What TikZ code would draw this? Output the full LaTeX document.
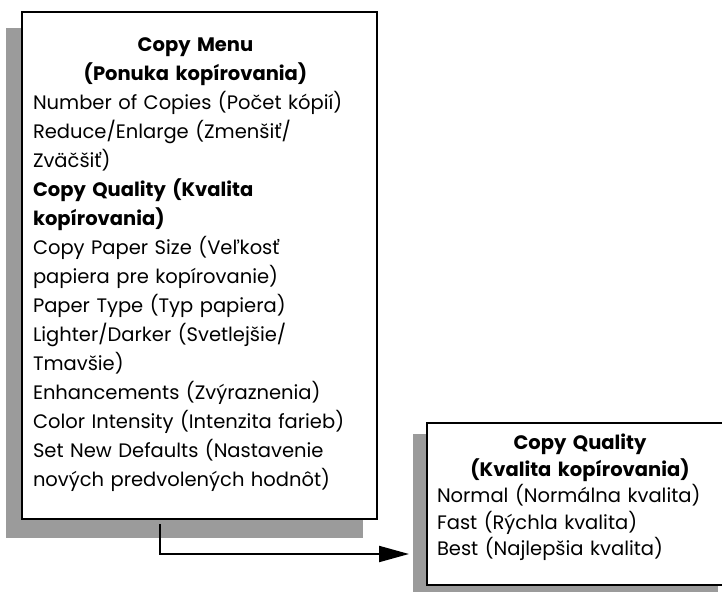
\documentclass[tikz,border=0pt]{standalone}
\usepackage{fontspec}
\setmainfont{Poppins}
\usetikzlibrary{arrows.meta,calc,backgrounds}
\definecolor{shadowgray}{RGB}{155,155,155}
\newcommand\menufont{\fontsize{19.5}{29}\selectfont}
\newcommand\qualityfont{\fontsize{19.5}{26.5}\selectfont}
\tikzset{
  panel/.style={draw=black, fill=white, line width=2pt, rectangle,
    inner sep=0pt, outer sep=0pt, anchor=north west},
  panelshadow/.style={fill=shadowgray, draw=none},
  paneltext/.style={anchor=north west, inner sep=0pt, outer sep=0pt},
  link/.style={line width=2pt, -{Triangle[length=30pt,width=16pt]}},
}
\begin{document}
\begin{tikzpicture}[x=1pt,y=-1pt]
\useasboundingbox (0,0) rectangle (722,591);
\clip (0,0) rectangle (722,591);

% the two menu panels
\node[panel, minimum width=355pt, minimum height=507pt] (menu) at (22,12) {};
\node[panel, minimum width=305pt, minimum height=162pt] (quality) at (427,423) {};

% drop shadows, offset down and to the left
\begin{scope}[on background layer]
  \fill[panelshadow] ($(menu.north west)+(-16,16)$) rectangle ($(menu.south east)+(-14,19)$);
  \fill[panelshadow] ($(quality.north west)+(-14,11)$) rectangle ($(quality.south east)+(-14,14)$);
\end{scope}

% menu entries
\node[paneltext, text width=325pt, font=\menufont] (menulist) at (33,38) {%
  \raggedright\parindent=0pt
  {\bfseries\centering Copy Menu\par (Ponuka kopírovania)\par}
  Number of Copies (Počet kópií)\par
  Reduce/Enlarge (Zmenšiť/\par
  Zväčšiť)\par
  {\bfseries Copy Quality (Kvalita\par kopírovania)\par}
  Copy Paper Size (Veľkosť\par
  papiera pre kopírovanie)\par
  Paper Type (Typ papiera)\par
  Lighter/Darker (Svetlejšie/\par
  Tmavšie)\par
  Enhancements (Zvýraznenia)\par
  Color Intensity (Intenzita farieb)\par
  Set New Defaults (Nastavenie\par
  nových predvolených hodnôt)\par};

\node[paneltext, text width=286pt, font=\qualityfont] (qualitylist) at (437,434) {%
  \raggedright\parindent=0pt
  {\bfseries\centering Copy Quality\par (Kvalita kopírovania)\par}
  Normal (Normálna kvalita)\par
  Fast (Rýchla kvalita)\par
  Best (Najlepšia kvalita)\par};

% connector from the menu to the quality submenu
\coordinate (linkend) at ($(quality.south west)+(-18,-31)$);
\draw[link] ($(menu.south west)+(138,5)$) |- (linkend);
\end{tikzpicture}
\end{document}
